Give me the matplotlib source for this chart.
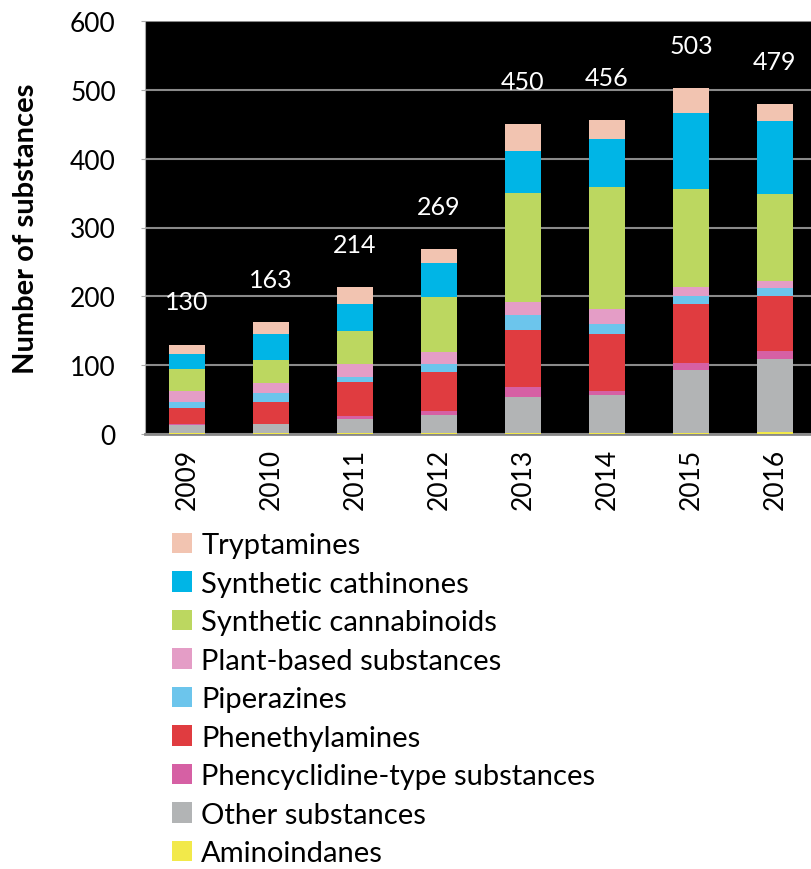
import numpy as np
import matplotlib.pyplot as plt
from matplotlib.patches import Patch

plt.rcParams['font.family'] = ['Lato', 'DejaVu Sans']

years = ["2009", "2010", "2011", "2012", "2013", "2014", "2015", "2016"]
totals = [130, 163, 214, 269, 450, 456, 503, 479]

# stacked from bottom to top
aminoindanes = [1, 2, 2, 2, 2, 2, 2, 3]
other = [12, 12, 20, 26, 52, 55, 91, 106]
phencyclidine = [2, 1, 4, 6, 14, 6, 10, 11]
phenethylamines = [23, 32, 50, 56, 83, 82, 86, 80]
piperazines = [9, 12, 7, 11, 22, 15, 12, 12]
plant_based = [15, 15, 19, 18, 19, 22, 12, 11]
cannabinoids = [33, 34, 47, 80, 158, 177, 143, 126]
cathinones = [21, 37, 40, 49, 61, 69, 111, 106]
tryptamines = [14, 18, 25, 21, 39, 28, 36, 24]

series = [
    ("Aminoindanes", aminoindanes, "#F2E94A"),
    ("Other substances", other, "#B2B4B5"),
    ("Phencyclidine-type substances", phencyclidine, "#D660A4"),
    ("Phenethylamines", phenethylamines, "#E03C40"),
    ("Piperazines", piperazines, "#6CC5EC"),
    ("Plant-based substances", plant_based, "#E49DC6"),
    ("Synthetic cannabinoids", cannabinoids, "#BCD760"),
    ("Synthetic cathinones", cathinones, "#00B5E6"),
    ("Tryptamines", tryptamines, "#F2C4B1"),
]

fig = plt.figure(figsize=(8.11, 8.70), dpi=100)
ax = fig.add_axes([145 / 811, 1 - 435 / 870, 666 / 811, 413 / 870])
ax.set_facecolor("black")

x = np.arange(len(years))
bottom = np.zeros(len(years))
for name, vals, color in series:
    ax.bar(x, vals, bottom=bottom, width=0.42, color=color, zorder=3)
    bottom += np.array(vals)

for xi, t in zip(x, totals):
    ax.text(xi, t + 62, str(t), ha="center", va="center", color="white",
            fontsize=18, zorder=4)

ax.set_xlim(-0.5, 7.43)
ax.set_ylim(0, 600)
ax.set_yticks(range(0, 601, 100))
ax.yaxis.grid(True, color="#8a8a8a", linewidth=1.5, zorder=1)
ax.set_xticks(x)
ax.set_xticklabels(years, rotation=90, fontsize=19)
ax.tick_params(axis="y", labelsize=19, length=3, color="#aaaaaa", pad=18)
ax.tick_params(axis="x", length=0, pad=10)
ax.set_ylabel("Number of substances", fontsize=21, fontweight="bold", labelpad=22)
for s in ["top", "right"]:
    ax.spines[s].set_visible(False)
ax.spines["left"].set_color("#aaaaaa")
ax.spines["bottom"].set_color("#888888")
ax.spines["bottom"].set_linewidth(2)

handles = [Patch(facecolor=c, label=n) for n, v, c in series[::-1]]
fig.legend(handles=handles, loc="upper left", bbox_to_anchor=(172 / 811, 1 - 533 / 870),
           frameon=False, fontsize=21, handlelength=0.7, handleheight=0.7,
           handletextpad=0.3, labelspacing=0.43, borderaxespad=0, borderpad=0)

plt.savefig("out.png", dpi=100)
